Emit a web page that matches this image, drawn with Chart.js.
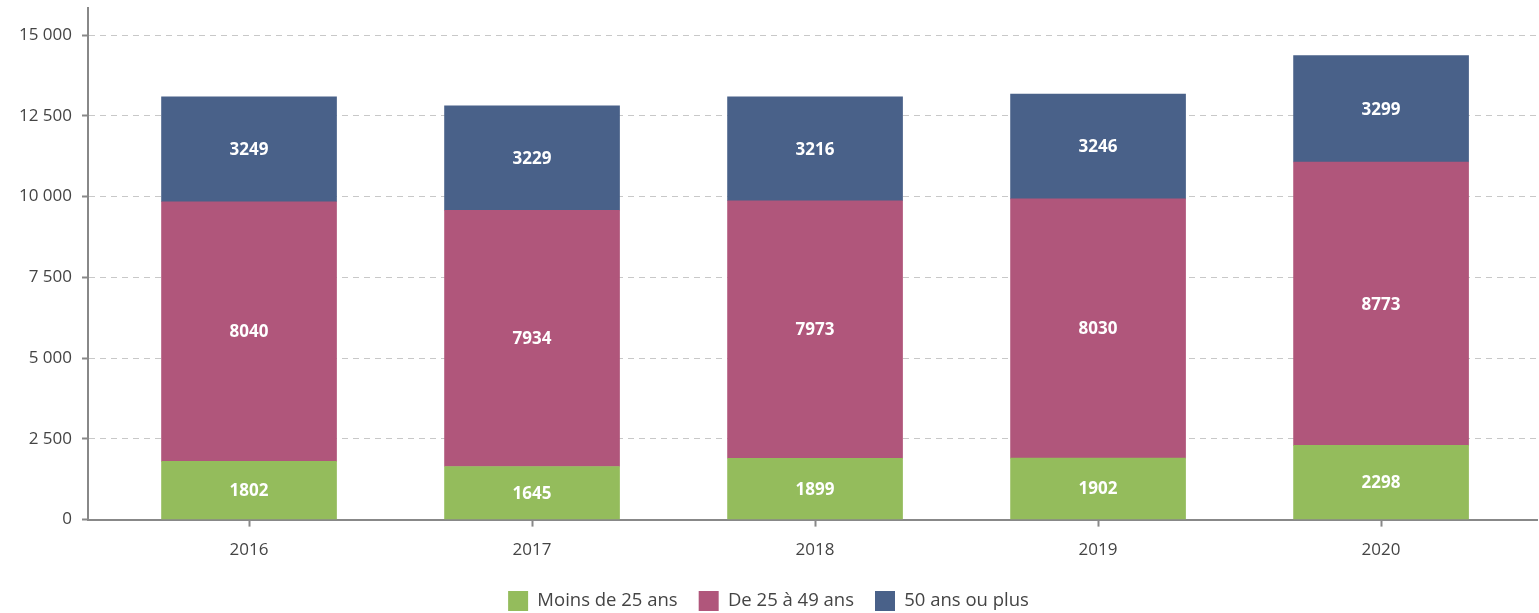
<!DOCTYPE html>
<html>
<head>
<meta charset="utf-8">
<script src="https://cdn.jsdelivr.net/npm/chart.js@4.4.0/dist/chart.umd.min.js"></script>
<style>
  html, body { margin: 0; padding: 0; background: #fff; }
  #wrap { width: 1539px; height: 613px; }
</style>
</head>
<body>
<div id="wrap"><canvas id="myChart"></canvas></div>
<script>
const years = [2016, 2017, 2018, 2019, 2020]
const moins25 = [1802, 1645, 1899, 1902, 2298]
const de25a49 = [8040, 7934, 7973, 8030, 8773]
const plus50 = [3249, 3229, 3216, 3246, 3299]
const yTicks = [0, 2500, 5000, 7500, 10000, 12500, 15000]
const seriesNames = ['Moins de 25 ans', 'De 25 à 49 ans', '50 ans ou plus']

function points(values) {
    return years.map((y, i) => ({ x: y, y: values[i] }))
}

function fmt(v) {
    return String(v).replace(/\B(?=(\d{3})+(?!\d))/g, ' ')
}

// white numbers in the middle of every segment
const segmentLabels = {
    id: 'segmentLabels',
    afterDatasetsDraw(chart) {
        const ctx = chart.ctx
        ctx.save()
        ctx.fillStyle = '#fff'
        ctx.font = 'bold 17px "Open Sans"'
        ctx.textAlign = 'center'
        ctx.textBaseline = 'middle'
        chart.data.datasets.forEach((ds, i) => {
            const meta = chart.getDatasetMeta(i)
            meta.data.forEach((bar, j) => {
                const p = bar.getProps(['x', 'y', 'base'], true)
                ctx.fillText(ds.data[j].y, p.x, (p.y + p.base) / 2 + 1)
            })
        })
        ctx.restore()
    }
}

const ctx = document.getElementById('myChart').getContext('2d')
const myChart = new Chart(ctx, {
    type: 'bar',
    data: {
        datasets: [
            { label: seriesNames[0], data: points(moins25), backgroundColor: '#94bc5c' },
            { label: seriesNames[1], data: points(de25a49), backgroundColor: '#b0567b' },
            { label: seriesNames[2], data: points(plus50), backgroundColor: '#496189' }
        ]
    },
    options: {
        responsive: true,
        maintainAspectRatio: false,
        animation: false,
        datasets: { bar: { barThickness: 175 } },
        layout: { padding: { left: 0, right: 2, top: 8, bottom: -8 } },
        scales: {
            x: {
                type: 'linear',
                stacked: true,
                offset: false,
                min: 2015.431,
                max: 2020.551,
                afterBuildTicks: s => { s.ticks = years.map(v => ({ value: v })) },
                afterFit: s => { s.height -= 3 },
                ticks: {
                    callback: v => String(v),
                    color: '#444',
                    font: { family: 'Open Sans', size: 17 },
                    padding: 13
                },
                grid: { offset: false, drawOnChartArea: false, tickLength: 7, tickColor: '#888', tickWidth: 2 },
                border: { display: true, color: '#888', width: 2 }
            },
            y: {
                stacked: true,
                min: 0,
                max: 15840,
                afterBuildTicks: s => { s.ticks = yTicks.map(v => ({ value: v })) },
                afterFit: s => {
                    s.width = 88
                    s.paddingTop = 0
                    s.paddingBottom = 0
                },
                ticks: {
                    callback: v => fmt(v),
                    color: '#444',
                    font: { family: 'Open Sans', size: 17 },
                    padding: 10
                },
                grid: { color: '#c8c8c8', lineWidth: 1, tickLength: 6, tickColor: '#888', tickWidth: 2, tickBorderDash: [] },
                border: { display: true, color: '#888', width: 2, dash: [6, 5] }
            }
        },
        plugins: {
            legend: {
                position: 'bottom',
                labels: {
                    boxWidth: 20,
                    boxHeight: 20,
                    padding: 21,
                    color: '#444',
                    font: { family: 'Open Sans', size: 18.5 }
                }
            },
            tooltip: { enabled: false }
        }
    },
    plugins: [segmentLabels]
})
</script>
</body>
</html>
